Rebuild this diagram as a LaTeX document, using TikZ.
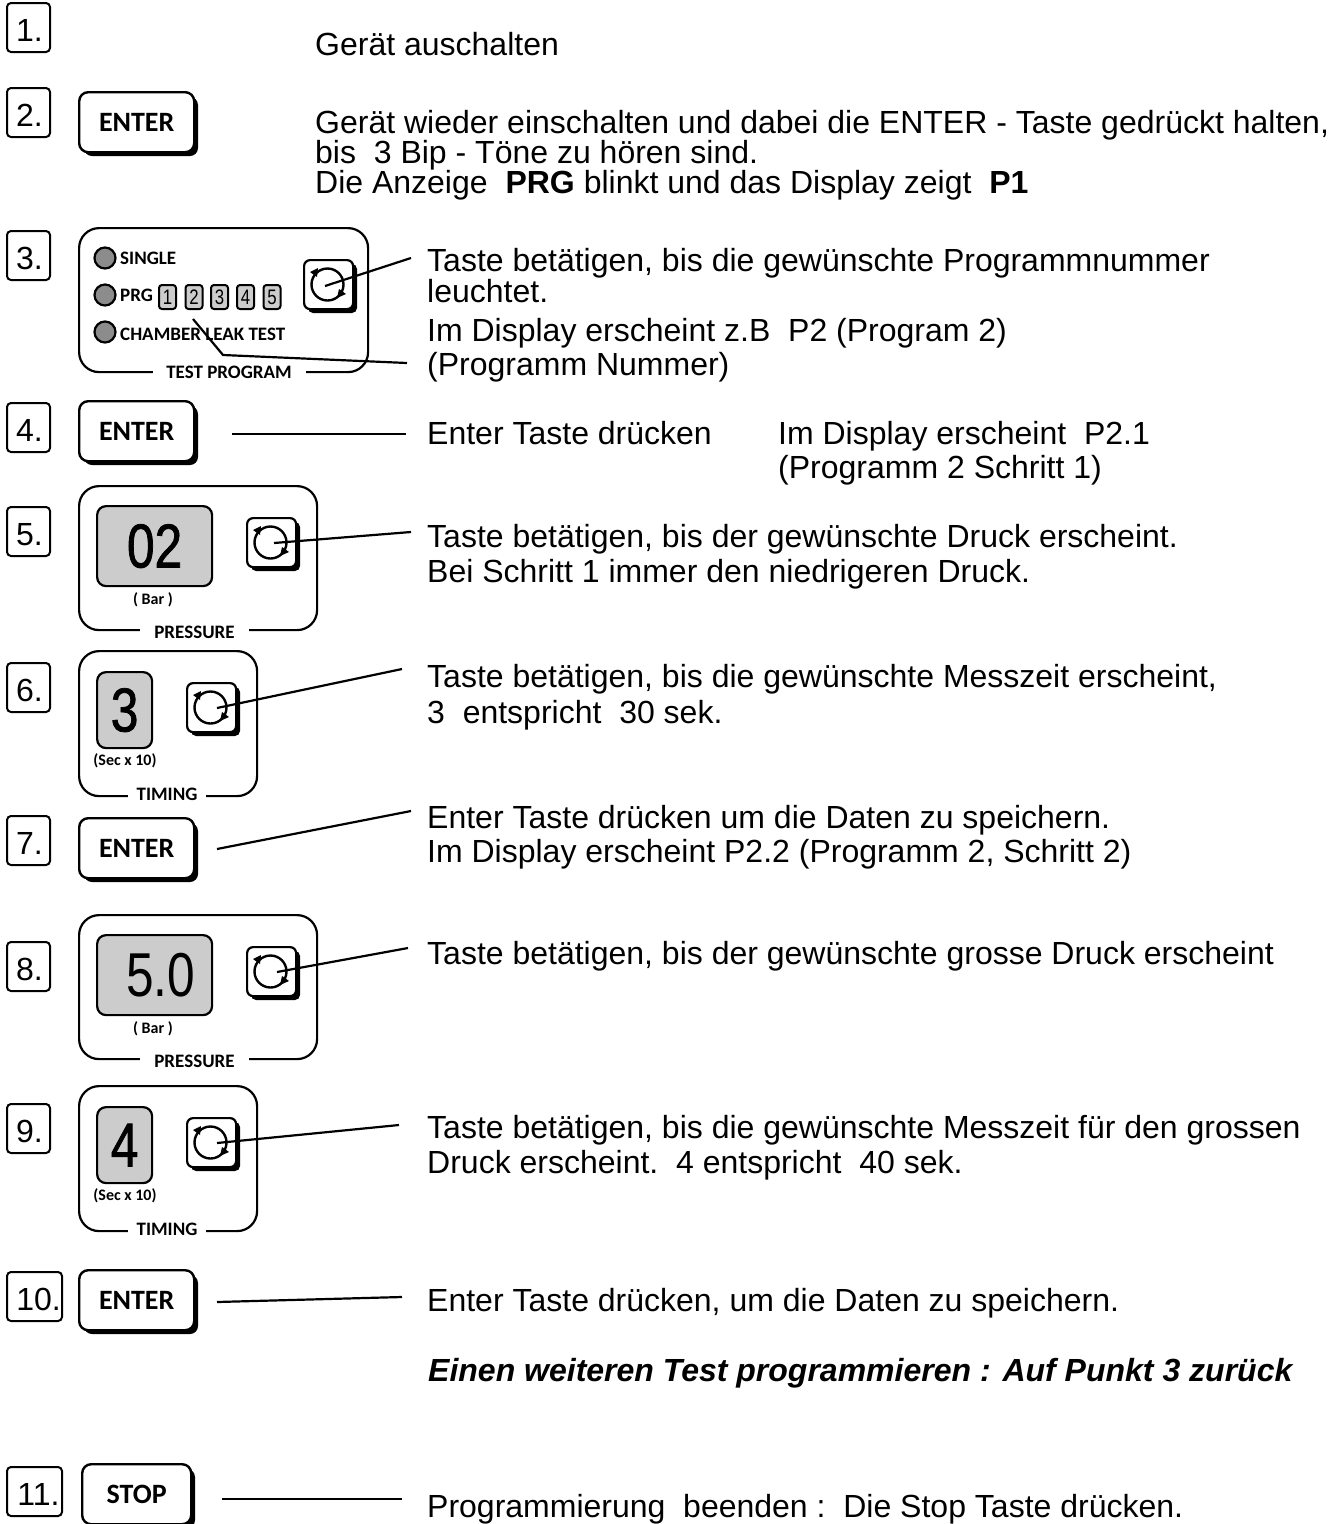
\documentclass[tikz,border=0pt]{standalone}
\usepackage{fontspec}
\setmainfont{Liberation Sans}
\newfontfamily\labfont{Carlito}
\newfontfamily\bigfont[FakeStretch=0.8]{Liberation Sans}
\newfontfamily\bigbold[FakeStretch=0.8,FakeBold=1.2]{Liberation Sans}
\tikzset{
  x=1pt,y=-1pt,
  body/.style={anchor=base west,inner sep=0pt,yshift=-1pt,font=\fontsize{32}{33}\selectfont},
  bodybf/.style={body,font=\fontsize{32}{33}\selectfont\bfseries\itshape},
  stepbox/.style={draw,line width=2pt,rounded corners=4pt,anchor=north west,inner sep=0pt,text height=27pt,text depth=0pt,font=\fontsize{32}{33}\selectfont},
  keyface/.style={draw,fill=white,line width=2.4pt,rounded corners=9pt,anchor=north west,inner sep=0pt,font=\labfont\bfseries\fontsize{28}{28}\selectfont},
  panelbox/.style={draw,fill=white,line width=2.2pt,rounded corners=20pt,anchor=north west,inner sep=0pt},
  panellabel/.style={fill=white,inner sep=0pt,font=\labfont\bfseries\fontsize{19}{19}\selectfont},
  smalltxt/.style={inner sep=0pt,font=\labfont\bfseries\fontsize{19}{19}\selectfont},
  unittxt/.style={inner sep=0pt,font=\labfont\bfseries\fontsize{16}{16}\selectfont},
  ledlamp/.style={circle,draw,fill=black!45,line width=2.2pt,minimum size=21pt,inner sep=0pt},
  numcell/.style={draw,fill=black!20,line width=2pt,rounded corners=3pt,inner sep=0pt,minimum width=17pt,minimum height=24pt,font=\bigfont\fontsize{21}{21}\selectfont},
  dispbox/.style={draw,fill=black!20,line width=2.2pt,rounded corners=9pt,anchor=north west,inner sep=0pt,font=\bigfont\fontsize{62}{62}\selectfont},
  dispbold/.style={dispbox,font=\bigbold\fontsize{62}{62}\selectfont},
  lead/.style={line width=2.2pt},
}
% #1 name, #2 x, #3 y
\newcommand{\knobkey}[3]{%
  \fill[rounded corners=5pt] (#2+5,#3+5) rectangle (#2+54,#3+54);
  \node[draw,fill=white,line width=2.2pt,rounded corners=6pt,anchor=north west,minimum width=49pt,minimum height=49pt,inner sep=0pt] (#1) at (#2,#3) {};
  \node[circle,draw,line width=2.4pt,minimum size=32pt,inner sep=0pt] (#1c) at (#2+24.5,#3+25.5) {};
  \fill (#2+7,#3+13) -- (#2+15,#3+9) -- (#2+14,#3+18) -- cycle;
  \fill (#2+43,#3+35) -- (#2+34,#3+39) -- (#2+36,#3+30) -- cycle;
}
% #1 name, #2 x, #3 y, #4 w, #5 h, #6 text
\newcommand{\pushkey}[6]{%
  \fill[rounded corners=8pt] (#2+6,#3+6) rectangle (#2+#4+5,#3+#5+5);
  \node[keyface,minimum width=#4pt,minimum height=#5pt] (#1) at (#2,#3) {#6};
}
% #1 name, #2 x, #3 y, #4 w, #5 h, #6 label, #7 gap width, #8 gap centre x, #9 gap centre y
\newcommand{\panelframe}[9]{%
  \node[panelbox,minimum width=#4pt,minimum height=#5pt] (#1) at (#2,#3) {};
  \node[panellabel,minimum width=#7pt,minimum height=14pt] (#1l) at (#8,#9) {#6};
}
\begin{document}
\begin{tikzpicture}
\useasboundingbox (0,0) rectangle (1343,1524);
% step numbers
\foreach \n/\y in {1/2,2/87,3/230,4/402,5/506,6/662,7/815,8/941,9/1103}
  \node[stepbox,minimum width=43pt,minimum height=49pt] (s\n) at (6,\y) {\hspace*{2pt}\n.};
\foreach \n/\y in {10/1271,11/1466}
  \node[stepbox,minimum width=55pt,minimum height=49pt] (s\n) at (6,\y) {\hspace*{8pt}\n.};
% step 1
\node[body] (t1) at (315,54) {Gerät auschalten};
% step 2
\pushkey{k2}{78}{91}{115}{60}{ENTER}
\node[body] (t2a) at (315,132) {Gerät wieder einschalten und dabei die ENTER - Taste gedrückt halten,};
\node[body] (t2b) at (315,162) {bis\ \ 3 Bip - Töne zu hören sind.};
\node[body] (t2c) at (315,192) {Die Anzeige\ \ \textbf{PRG} blinkt und das Display zeigt\ \ \textbf{P1}};
% step 3
\panelframe{p3}{78}{227}{289}{144}{TEST PROGRAM}{153}{229}{372}
\node[ledlamp] (l1) at (105,258) {};
\node[ledlamp] (l2) at (105,295) {};
\node[ledlamp] (l3) at (105,332) {};
\node[smalltxt,anchor=west] (l1t) at (120,258) {SINGLE};
\node[smalltxt,anchor=west] (l2t) at (120,295) {PRG};
\node[smalltxt,anchor=west] (l3t) at (120,334) {CHAMBER LEAK TEST};
\foreach \n/\x in {1/167.5,2/194,3/219.5,4/245.5,5/272}
  \node[numcell] (c\n) at (\x,297) {\n};
\knobkey{k3}{303}{259}
\coordinate (a3) at (325,286);
\coordinate (a3b) at (193,319);
\coordinate (a3c) at (223,355);
\node[body] (t3a) at (427,270) {Taste betätigen, bis die gewünschte Programmnummer};
\node[body] (t3b) at (427,301) {leuchtet.};
\node[body] (t3c) at (427,340) {Im Display erscheint z.B\ \ P2 (Program 2)};
\node[body] (t3d) at (427,374) {(Programm Nummer)};
\coordinate (e3a) at (411,258);
\coordinate (e3b) at (407,363);
\draw[lead] (a3) -- (e3a);
\draw[lead] (a3b) -- (a3c) -- (e3b);
% step 4
\pushkey{k4}{78}{400}{115}{60}{ENTER}
\coordinate (a4) at (232,434);
\coordinate (e4) at (406,434);
\draw[lead] (a4) -- (e4);
\node[body] (t4a) at (427,443) {Enter Taste drücken};
\node[body] (t4b) at (778,443) {Im Display erscheint\ \ P2.1};
\node[body] (t4c) at (778,477) {(Programm 2 Schritt 1)};
% step 5
\panelframe{p5}{78}{485}{238}{144}{PRESSURE}{109}{194.5}{632}
\node[dispbold,minimum width=115pt,minimum height=80pt] (d5) at (96,505) {02};
\node[unittxt] (u5) at (153,600) {( Bar )};
\knobkey{k5}{246}{517}
\coordinate (a5) at (274,543);
\coordinate (e5) at (411,532);
\draw[lead] (a5) -- (e5);
\node[body] (t5a) at (427,546) {Taste betätigen, bis der gewünschte Druck erscheint.};
\node[body] (t5b) at (427,581) {Bei Schritt 1 immer den niedrigeren Druck.};
% step 6
\panelframe{p6}{78}{650}{178}{145}{TIMING}{78}{167}{794}
\node[dispbold,minimum width=55pt,minimum height=76pt] (d6) at (96,671) {3};
\node[unittxt] (u6) at (125,761) {(Sec x 10)};
\knobkey{k6}{186}{682}
\coordinate (a6) at (217,708);
\coordinate (e6) at (402,669);
\draw[lead] (a6) -- (e6);
\node[body] (t6a) at (427,686) {Taste betätigen, bis die gewünschte Messzeit erscheint,};
\node[body] (t6b) at (427,722) {3\ \ entspricht\ \ 30 sek.};
% step 7
\pushkey{k7}{78}{817}{115}{60}{ENTER}
\coordinate (a7) at (217,849);
\coordinate (e7) at (411,811);
\draw[lead] (a7) -- (e7);
\node[body] (t7a) at (427,827) {Enter Taste drücken um die Daten zu speichern.};
\node[body] (t7b) at (427,861) {Im Display erscheint P2.2 (Programm 2, Schritt 2)};
% step 8
\panelframe{p8}{78}{914}{238}{144}{PRESSURE}{109}{194.5}{1061}
\node[dispbox,minimum width=115pt,minimum height=80pt] (d8) at (96,934) {\hspace*{12pt}5.0};
\node[unittxt] (u8) at (153,1029) {( Bar )};
\knobkey{k8}{246}{946}
\coordinate (a8) at (277,972);
\coordinate (e8) at (408,948);
\draw[lead] (a8) -- (e8);
\node[body] (t8a) at (427,963) {Taste betätigen, bis der gewünschte grosse Druck erscheint};
% step 9
\panelframe{p9}{78}{1085}{178}{145}{TIMING}{78}{167}{1229}
\node[dispbold,minimum width=55pt,minimum height=76pt] (d9) at (96,1106) {4};
\node[unittxt] (u9) at (125,1196) {(Sec x 10)};
\knobkey{k9}{186}{1117}
\coordinate (a9) at (217,1143);
\coordinate (e9) at (399,1125);
\draw[lead] (a9) -- (e9);
\node[body] (t9a) at (427,1137) {Taste betätigen, bis die gewünschte Messzeit für den grossen};
\node[body] (t9b) at (427,1172) {Druck erscheint.\ \ 4 entspricht\ \ 40 sek.};
% step 10
\pushkey{k10}{78}{1269}{115}{60}{ENTER}
\coordinate (a10) at (217,1302);
\coordinate (e10) at (402,1297);
\draw[lead] (a10) -- (e10);
\node[body] (t10a) at (427,1310) {Enter Taste drücken, um die Daten zu speichern.};
\node[bodybf] (t10b) at (428,1380) {Einen weiteren Test programmieren : Auf Punkt 3 zurück};
% step 11
\pushkey{k11}{81}{1463}{109}{60}{STOP}
\coordinate (a11) at (222,1499);
\coordinate (e11) at (402,1499);
\draw[lead] (a11) -- (e11);
\node[body] (t11) at (427,1516) {Programmierung\ \ beenden :\ \ Die Stop Taste drücken.};
\end{tikzpicture}
\end{document}
